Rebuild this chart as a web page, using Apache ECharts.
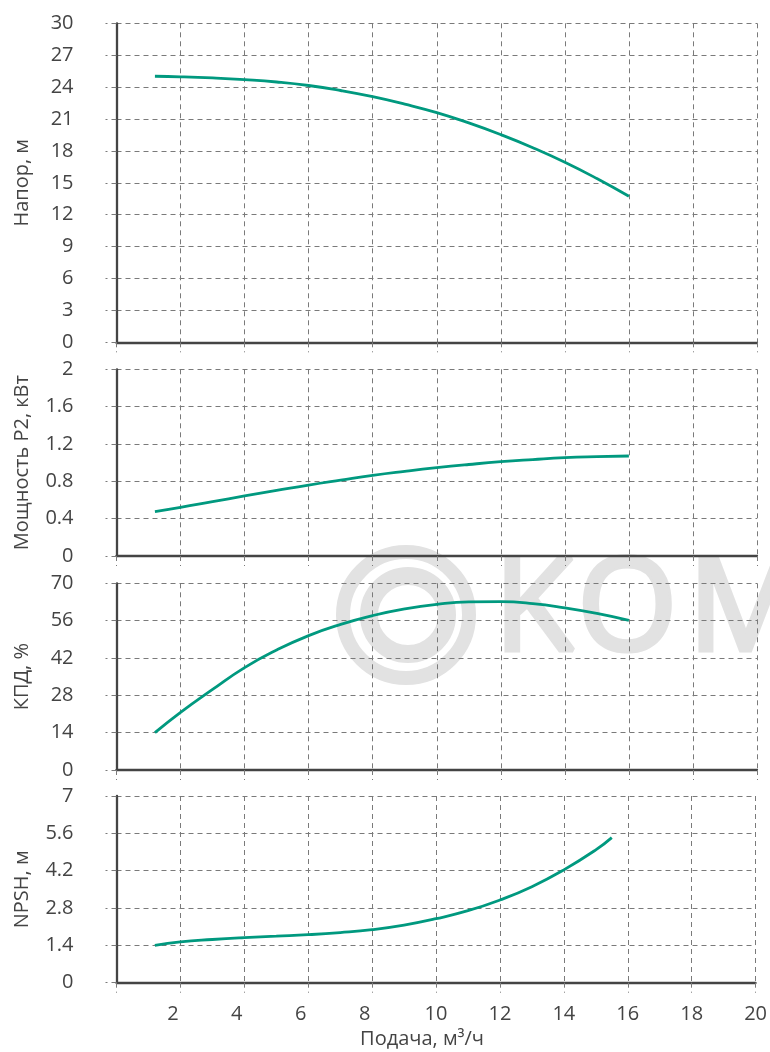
<!DOCTYPE html>
<html>
<head>
<meta charset="utf-8">
<script src="https://cdn.jsdelivr.net/npm/echarts@6/dist/echarts.min.js"></script>
<style>
html,body{margin:0;padding:0;background:#fff;}
#chart{width:770px;height:1052px;}
</style>
</head>
<body>
<div id="chart"></div>
<script>
// ---- data ----
const headFlow = [1.2, 2, 3, 4, 5, 6, 7, 8, 9, 10, 11, 12, 13, 14, 15, 16];
const headValues = [25.02, 24.97, 24.86, 24.7, 24.48, 24.15, 23.68, 23.1, 22.4, 21.6, 20.63, 19.53, 18.3, 16.93, 15.4, 13.73];

const powerFlow = [1.2, 2, 3, 4, 5, 6, 7, 8, 9, 10, 11, 12, 13, 14, 15, 16];
const powerValues = [0.475, 0.52, 0.582, 0.643, 0.702, 0.76, 0.813, 0.864, 0.907, 0.946, 0.98, 1.01, 1.033, 1.053, 1.064, 1.071];

const effFlow = [1.2, 2, 3, 4, 5, 6, 7, 8, 9, 10, 11, 12, 13, 14, 15, 16];
const effValues = [14.0, 21.6, 30.2, 38.4, 45.0, 50.4, 54.6, 57.9, 60.4, 62.1, 63.0, 63.1, 62.4, 60.8, 58.7, 56.1];

const npshFlow = [1.2, 2, 3, 4, 5, 6, 7, 8, 9, 10, 11, 12, 13, 14, 15, 15.5];
const npshValues = [1.40, 1.53, 1.62, 1.69, 1.745, 1.80, 1.88, 1.99, 2.16, 2.40, 2.70, 3.10, 3.60, 4.23, 4.98, 5.44];

const yNames = ['Напор, м', 'Мощность P2, кВт', 'КПД, %', 'NPSH, м'];
const yMax = [30, 2, 70, 7];
const yInterval = [3, 0.4, 14, 1.4];
const xName = 'Подача, м³/ч';
const xMin = 0, xMax = 20, xInterval = 2;

// ---- chart ----
const FONT = 'Open Sans';
const TXT = '#444';
const GRIDC = '#7a7a7a';
const LINEC = '#00997f';
const WM = '#e2e2e2';

const grids = [
  {left: 116.5, right: 13, top: 23.3, height: 319},
  {left: 116.5, right: 13, top: 369.3, height: 186.7},
  {left: 116.5, right: 13, top: 583.3, height: 186.7},
  {left: 116.5, right: 13, top: 796, height: 186.7}
];

function fmtNum(v) {
  return String(Math.round(v * 100) / 100);
}

const xAxes = grids.map((g, i) => ({
  type: 'value', gridIndex: i, min: xMin, max: xMax, interval: xInterval,
  axisLine: {show: true, onZero: false, lineStyle: {color: TXT, width: 2.3}},
  axisTick: {show: true, length: 10, lineStyle: {color: GRIDC, type: [5, 4], width: 1}},
  splitLine: {show: true, lineStyle: {color: GRIDC, type: [5, 4], width: 1}},
  axisLabel: {
    show: i === 3, margin: 22, fontSize: 20, fontFamily: FONT, color: TXT,
    formatter: v => v === 0 ? '' : (v < 10 ? '{a|' + v + '}' : String(v)),
    rich: {a: {fontSize: 20, fontFamily: FONT, color: TXT, padding: [0, 15, 0, 0]}}
  },
  name: i === 3 ? xName : '',
  nameLocation: 'middle', nameGap: 47,
  nameTextStyle: {fontSize: 20, fontFamily: FONT, color: TXT, padding: [0, 28, 0, 0]}
}));

const yAxes = grids.map((g, i) => ({
  type: 'value', gridIndex: i, min: 0, max: yMax[i], interval: yInterval[i],
  axisLine: {show: true, lineStyle: {color: TXT, width: 2.3}},
  axisTick: {show: true, length: 11, lineStyle: {color: GRIDC, type: [5, 4], width: 1}},
  splitLine: {show: true, lineStyle: {color: GRIDC, type: [5, 4], width: 1}},
  axisLabel: {margin: 43, fontSize: 20, fontFamily: FONT, color: TXT, formatter: fmtNum},
  name: yNames[i], nameLocation: 'middle', nameGap: 84, nameRotate: 90,
  nameTextStyle: {fontSize: 20, fontFamily: FONT, color: TXT}
}));

function pairs(xs, ys) { return xs.map((x, k) => [x, ys[k]]); }

const seriesData = [
  pairs(headFlow, headValues),
  pairs(powerFlow, powerValues),
  pairs(effFlow, effValues),
  pairs(npshFlow, npshValues)
];

const series = seriesData.map((d, i) => ({
  type: 'line', xAxisIndex: i, yAxisIndex: i, data: d,
  smooth: 0.5, showSymbol: false, symbol: 'none',
  lineStyle: {color: LINEC, width: 2.8}, z: 5
}));

function wmLetter(ch, left) {
  return {type: 'text', z: -10, silent: true, left: left, top: 547,
    style: {text: ch, fontSize: 128, fontFamily: FONT, fill: WM, stroke: WM, lineWidth: 5}};
}

const chart = echarts.init(document.getElementById('chart'), null, {renderer: 'canvas'});
chart.setOption({
  animation: false,
  backgroundColor: '#fff',
  grid: grids,
  xAxis: xAxes,
  yAxis: yAxes,
  series: series,
  graphic: [
    {type: 'circle', z: -10, silent: true, shape: {cx: 406, cy: 615, r: 63},
     style: {fill: 'none', stroke: WM, lineWidth: 14}},
    {type: 'circle', z: -10, silent: true, shape: {cx: 408, cy: 615, r: 39},
     style: {fill: 'none', stroke: WM, lineWidth: 18}},
    wmLetter('K', 492),
    wmLetter('O', 575),
    wmLetter('M', 686)
  ]
});
</script>
</body>
</html>
